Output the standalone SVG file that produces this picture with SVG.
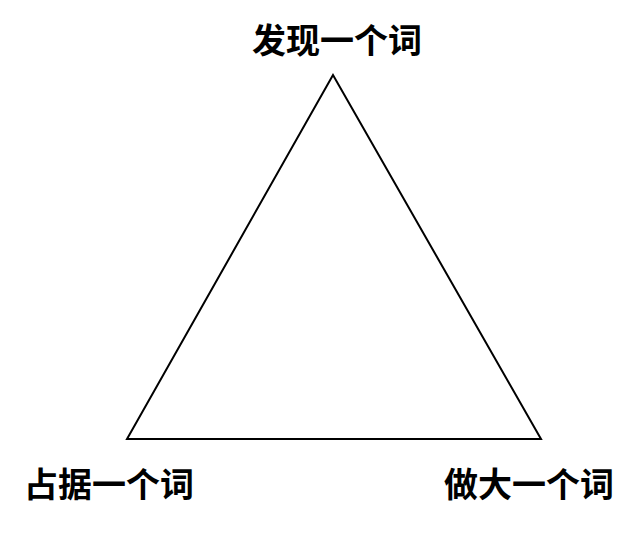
<svg xmlns="http://www.w3.org/2000/svg" width="639" height="538" viewBox="0 0 639 538">
<style>
.lbl{font-family:"Noto Sans CJK SC","Noto Sans",sans-serif;font-size:34px;font-weight:bold;fill:#000;text-anchor:middle}
.edge{fill:none;stroke:#000;stroke-width:2;stroke-linejoin:miter}
</style>
<rect width="639" height="538" fill="#fff"/>
<g id="connectors">
<polygon class="edge" points="333,75 127,439 541,439"/>
</g>
<g id="node-top"><text class="lbl" x="337" y="53">发现一个词</text></g>
<g id="node-left"><text class="lbl" x="109" y="497">占据一个词</text></g>
<g id="node-right"><text class="lbl" x="529" y="497">做大一个词</text></g>
</svg>
